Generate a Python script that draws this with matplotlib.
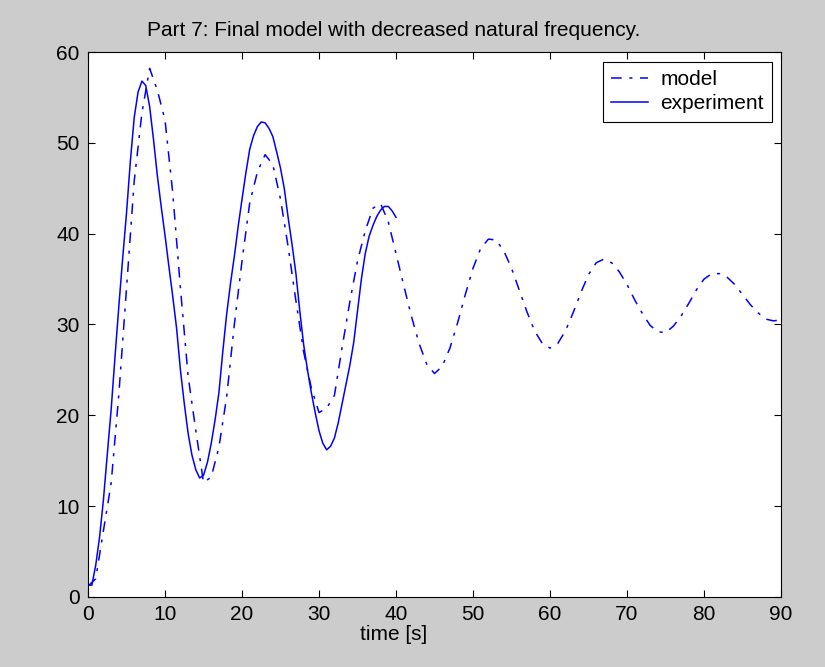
import numpy as np
import matplotlib
matplotlib.use('Agg')
import matplotlib.pyplot as plt

# Data -----------------------------------------------------------------
# model (dash-dot), sampled every second from 0 to 90 s
model_t = np.arange(0, 91, 1)
model_y = [1.2, 2.0, 7.3, 12.5, 22.3, 34.0, 45.8, 53.3, 58.2, 55.8,
           52.5, 44.5, 34.0, 24.3, 18.3, 12.6, 13.2, 16.5, 22.0, 30.0,
           37.0, 43.4, 46.8, 48.7, 47.6, 43.8, 38.5, 32.6, 27.0, 23.0,
           20.3, 20.8, 22.2, 27.5, 32.5, 37.0, 40.3, 42.8, 43.3, 41.3,
           37.8, 34.3, 30.9, 27.9, 25.6, 24.6, 25.4, 27.4, 30.2, 33.3,
           36.2, 38.4, 39.4, 39.3, 38.1, 36.2, 33.8, 31.4, 29.3, 27.9,
           27.4, 27.9, 29.3, 31.3, 33.5, 35.5, 36.8, 37.2, 36.8, 35.8,
           34.4, 32.7, 31.2, 29.9, 29.2, 29.1, 29.8, 30.9, 32.3, 33.8,
           35.0, 35.6, 35.6, 35.2, 34.4, 33.3, 32.2, 31.3, 30.6, 30.4,
           30.5]

# experiment (solid), sampled every half second from 0 to 40 s
exp_t = np.arange(0, 40.5, 0.5)
exp_y = [1.3, 1.3, 3.5, 6.6, 10.7, 15.7, 20.6, 26.4, 32.0, 37.3,
         42.3, 48.0, 52.8, 55.6, 56.8, 56.3, 54.0, 50.4, 46.4, 43.0,
         39.8, 36.4, 33.1, 29.6, 25.0, 21.3, 18.0, 15.6, 14.0, 13.1,
         13.4, 14.8, 16.9, 19.5, 22.5, 27.0, 31.1, 34.5, 37.5, 40.8,
         43.8, 46.7, 49.3, 50.8, 51.8, 52.3, 52.2, 51.6, 50.7, 49.0,
         47.2, 44.9, 41.7, 38.8, 35.6, 31.5, 27.8, 25.0, 22.5, 20.3,
         18.3, 16.9, 16.2, 16.6, 17.5, 19.2, 21.3, 23.4, 25.5, 28.0,
         31.5, 35.0, 37.8, 39.7, 40.9, 41.9, 42.6, 43.0, 43.0, 42.5,
         41.8]

x_ticks = [0, 10, 20, 30, 40, 50, 60, 70, 80, 90]
y_ticks = [0, 10, 20, 30, 40, 50, 60]

plt.rcParams['font.family'] = ['Liberation Sans', 'DejaVu Sans']
fs = 15

fig = plt.figure(figsize=(8.25, 6.67), dpi=100, facecolor='#cccccc')
ax = fig.add_axes([0.1067, 0.105, 0.84, 0.817])
ax.set_facecolor('white')

ax.plot(model_t, model_y, color='blue', lw=1.1, dashes=[7, 5, 2, 5], label='model')
ax.plot(exp_t, exp_y, color='blue', lw=1.1, label='experiment')

ax.set_xlim(0, 90)
ax.set_ylim(0, 60)
ax.set_xticks(x_ticks)
ax.set_yticks(y_ticks)
ax.tick_params(direction='in', length=5, width=0.8, top=True, right=True,
               labelsize=fs, pad=6, colors='black')
for s in ax.spines.values():
    s.set_linewidth(0.8)

ax.set_xlabel('time [s]', fontsize=fs)
ax.xaxis.set_label_coords(0.4416, -0.052)
fig.text(0.4776, 0.954, 'Part 7: Final model with decreased natural frequency.',
         ha='center', va='center', fontsize=fs)

leg = ax.legend(loc='upper right', bbox_to_anchor=(0.987, 0.982), borderaxespad=0,
                fontsize=fs, fancybox=False, framealpha=1, edgecolor='black',
                handlelength=1.75, handletextpad=0.6, labelspacing=0.25,
                borderpad=0.4)
leg.get_frame().set_linewidth(0.8)

fig.savefig('out.png', dpi=100, facecolor=fig.get_facecolor())
